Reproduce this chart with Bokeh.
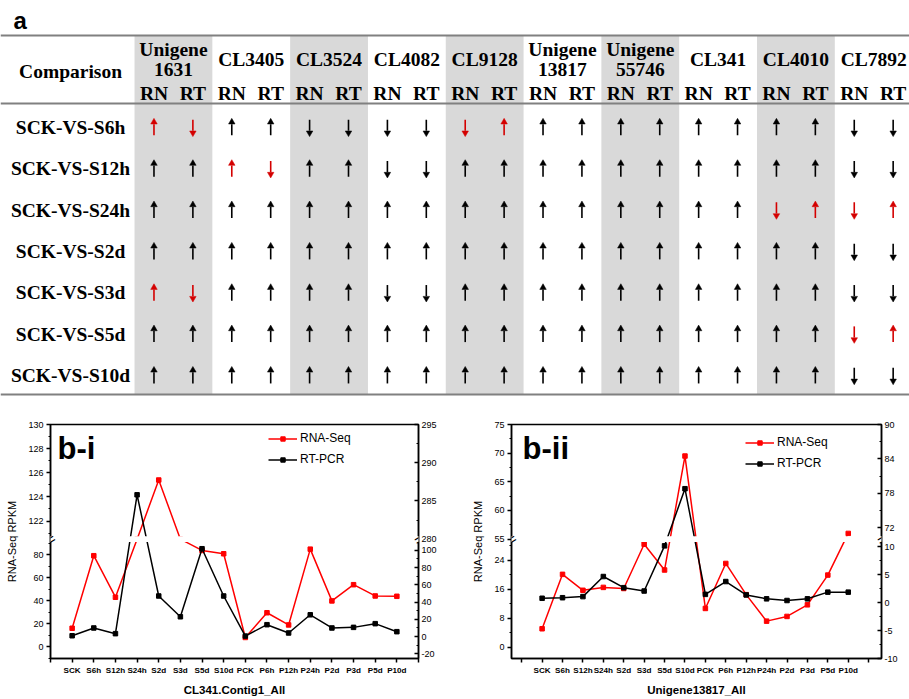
import math
from bokeh.plotting import figure
from bokeh.models import (Range1d, LinearAxis, FixedTicker, Label, Legend, LegendItem,
                          BoxAnnotation, Span)
from bokeh.layouts import column, row
from bokeh.embed import file_html
from bokeh.resources import INLINE
from bokeh.core.properties import value

# ---------------- Panel a data ----------------
genes = ["Unigene\n1631", "CL3405", "CL3524", "CL4082", "CL9128",
         "Unigene\n13817", "Unigene\n55746", "CL341", "CL4010", "CL7892"]
sub_cols = ["RN", "RT"]
comparisons = ["SCK-VS-S6h", "SCK-VS-S12h", "SCK-VS-S24h", "SCK-VS-S2d",
               "SCK-VS-S3d", "SCK-VS-S5d", "SCK-VS-S10d"]
# U = up-regulated, D = down-regulated (one letter per gene)
rn_dir = ["UUDDDUUUUD", "UUUDUUUUUD", "UUUUUUUUDD", "UUUUUUUUUD",
          "UUUDUUUUUD", "UUUUUUUUUD", "UUUUUUUUUD"]
rt_dir = ["DUDDUUUUUD", "UDUDUUUUUD", "UUUUUUUUUU", "UUUUUUUUUD",
          "DUUDUUUUUD", "UUUUUUUUUU", "UUUUUUUUUD"]
shaded_genes = [0, 2, 4, 6, 8]

# ---------------- Panel b data ----------------
stages = ["SCK", "S6h", "S12h", "S24h", "S2d", "S3d", "S5d", "S10d",
          "PCK", "P6h", "P12h", "P24h", "P2d", "P3d", "P5d", "P10d"]
bi_rnaseq = [16.0, 79.1, 43.0, 105.0, 125.4, 110.0, 83.7, 80.8,
             8.0, 29.5, 18.9, 84.8, 39.8, 53.9, 44.1, 43.8]
bi_rtpcr = [1.0, 10.0, 3.4, 285.8, 47.1, 23.0, 101.9, 47.1,
            0.6, 13.8, 4.2, 25.3, 10.0, 10.7, 15.0, 5.7]
bii_rnaseq = [5.1, 20.1, 15.7, 16.5, 16.2, 28.4, 21.3, 69.5,
              10.7, 23.1, 14.5, 7.2, 8.5, 11.7, 19.9, 56.0]
bii_rtpcr = [0.8, 0.9, 1.1, 4.7, 2.7, 2.1, 10.2, 78.8,
             1.5, 3.8, 1.4, 0.7, 0.4, 0.7, 1.9, 1.9]

# broken axes: (lower segment, upper segment), tick values
bi_left_seg = ((-10.3, 93.5), (120.5, 130.0))
bi_left_ticks = [0, 20, 40, 60, 80, 122, 124, 126, 128, 130]
bi_left_minor = [-10, 10, 30, 50, 70, 90, 121, 123, 125, 127, 129]
bi_right_seg = ((-25.4, 113.0), (280.0, 295.0))
bi_right_ticks = [-20, 0, 20, 40, 60, 80, 100, 280, 285, 290, 295]
bi_right_minor = [-10, 10, 30, 50, 70, 90, 110, 282.5, 287.5, 292.5]
bii_left_seg = ((-3.1, 29.8), (55.0, 75.0))
bii_left_ticks = [0, 8, 16, 24, 55, 60, 65, 70, 75]
bii_left_minor = [4, 12, 20, 28, 57.5, 62.5, 67.5, 72.5]
bii_right_seg = ((-10.0, 11.4), (70.0, 90.0))
bii_right_ticks = [-10, -5, 0, 5, 10, 72, 78, 84, 90]
bii_right_minor = [-7.5, -2.5, 2.5, 7.5, 75, 81, 87]

BREAK = 0.51
RED_T = "#d40000"

SERIF = "Liberation Serif"
SANS = "Liberation Sans"


def brk(v, lower, upper):
    if v <= lower[1]:
        return round(BREAK * (v - lower[0]) / (lower[1] - lower[0]), 6)
    if v >= upper[0]:
        return round(BREAK + (1 - BREAK) * (v - upper[0]) / (upper[1] - upper[0]), 6)
    return BREAK


def tick_label(v):
    return str(int(v)) if float(v).is_integer() else str(v)


# ---------------- Panel a (table) ----------------
TW, TH = 909, 398
tab = figure(width=TW, height=TH, x_range=Range1d(-3.445, 19.92), y_range=Range1d(6.554, -3.071),
             output_backend="svg", toolbar_location=None, min_border=0,
             outline_line_color=None, x_axis_location=None, y_axis_location=None)
tab.grid.visible = False

TOP_RULE, HEAD_RULE, BOT_RULE = -2.225, -0.580, 6.457
tab.quad(left=[2 * g for g in shaded_genes], right=[2 * g + 2 for g in shaded_genes],
         top=TOP_RULE, bottom=BOT_RULE, fill_color="#d9d9d9", line_color=None)
for loc in (TOP_RULE, HEAD_RULE, BOT_RULE):
    tab.add_layout(Span(location=loc, dimension="width", line_color="#808080", line_width=2))

tab.text(x=[2 * i + 1 for i in range(len(genes))], y=[-1.644] * len(genes), text=genes,
         text_font=value(SERIF), text_font_style="bold", text_font_size="19.5px",
         text_align="center", text_baseline="middle", text_line_height=0.95, text_color="black")
tab.text(x=[j + 0.5 for j in range(2 * len(genes))], y=[-0.81] * (2 * len(genes)),
         text=sub_cols * len(genes), text_font=value(SERIF), text_font_style="bold",
         text_font_size="19.5px", text_align="center", text_baseline="middle", text_color="black")
tab.text(x=[-1.645], y=[-1.354], text=["Comparison"], text_font=value(SERIF),
         text_font_style="bold", text_font_size="19.5px", text_align="center",
         text_baseline="middle", text_color="black")
tab.text(x=[-1.645] * len(comparisons), y=list(range(len(comparisons))), text=comparisons,
         text_font=value(SERIF), text_font_style="bold", text_font_size="19.5px",
         text_align="center", text_baseline="middle", text_color="black")
tab.add_layout(Label(x=-3.11, y=-2.58, text="a", text_font=SANS, text_font_style="bold",
                     text_font_size="24px", text_baseline="alphabetic", text_align="left",
                     text_color="black"))

sx, sy0, sy1, hx, hy, hm, col = [], [], [], [], [], [], []
for r in range(len(comparisons)):
    for g in range(len(genes)):
        dirs = (rn_dir[r][g], rt_dir[r][g])
        c = RED_T if dirs[0] != dirs[1] else "black"
        for s, d in enumerate(dirs):
            x = 2 * g + s + 0.5
            sgn = -1 if d == "U" else 1
            sx.append(x)
            sy0.append(r - sgn * 0.19)
            sy1.append(r + sgn * 0.08)
            hx.append(x)
            hy.append(r + sgn * 0.13)
            hm.append("triangle" if d == "U" else "inverted_triangle")
            col.append(c)
tab.segment(x0=sx, y0=sy0, x1=sx, y1=sy1, line_color=col, line_width=1.6)
tab.scatter(x=hx, y=hy, marker=hm, size=6.5, fill_color=col, line_color=col, line_width=0.5)

# ---------------- Panel b charts ----------------
CH = 300
FRAME_H = 238


def make_chart(width, bl, br, xr, rna, rt, lseg, lticks, lminor, rseg, rticks, rminor,
               name, name_x, xlabel, leg_xy, rtitle_off):
    p = figure(width=width, height=CH, x_range=Range1d(*xr), y_range=Range1d(0, 1),
               output_backend="svg", toolbar_location=None,
               min_border_left=bl, min_border_right=br, min_border_top=26, min_border_bottom=36)
    ppx = (width - bl - br) / (xr[1] - xr[0])
    p.grid.visible = False
    p.outline_line_color = "black"
    p.outline_line_width = 1.5
    p.outline_line_alpha = 1.0

    xs = list(range(len(stages)))
    t_rna = [brk(v, *lseg) for v in rna]
    t_rt = [brk(v, *rseg) for v in rt]
    r1 = p.line(xs, t_rna, line_color="#ff0000", line_width=1.5)
    m1 = p.scatter(xs, t_rna, marker="square", size=4.5, fill_color="#ff0000", line_color="#ff0000")
    r2 = p.line(xs, t_rt, line_color="black", line_width=1.5)
    m2 = p.scatter(xs, t_rt, marker="square", size=4.5, fill_color="black", line_color="black")

    # bottom axis
    xa = p.xaxis[0]
    xa.ticker = FixedTicker(ticks=list(range(-1, len(stages) + 1)))
    ov = {i: s for i, s in enumerate(stages)}
    ov[-1] = ""
    ov[len(stages)] = ""
    xa.major_label_overrides = ov
    xa.axis_label = xlabel
    xa.axis_label_text_font = SANS
    xa.axis_label_text_font_style = "bold"
    xa.axis_label_text_font_size = "11.5px"
    xa.axis_label_standoff = 6
    xa.major_label_text_font = SANS
    xa.major_label_text_font_style = "bold"
    xa.major_label_text_font_size = "8.1px"
    xa.major_label_standoff = 3
    xa.major_tick_out = 4
    xa.major_tick_in = 0
    xa.minor_tick_line_color = None

    # left axis
    ya = p.yaxis[0]
    ya.ticker = FixedTicker(ticks=[brk(v, *lseg) for v in lticks],
                            minor_ticks=[brk(v, *lseg) for v in lminor])
    ya.major_label_overrides = {brk(v, *lseg): tick_label(v) for v in lticks}
    ya.axis_label = "RNA-Seq RPKM"
    ya.major_tick_out = 4
    ya.major_tick_in = 0
    ya.minor_tick_out = 2
    ya.minor_tick_in = 0
    ya.major_label_standoff = 3
    ya.axis_label_standoff = 7

    # right axis
    ra = LinearAxis(ticker=FixedTicker(ticks=[brk(v, *rseg) for v in rticks],
                                       minor_ticks=[brk(v, *rseg) for v in rminor]),
                    major_label_overrides={brk(v, *rseg): tick_label(v) for v in rticks})
    ra.major_tick_out = 0
    ra.major_tick_in = 4
    ra.minor_tick_out = 0
    ra.minor_tick_in = 2
    ra.major_label_standoff = 3
    p.add_layout(ra, "right")

    for ax in (xa, ya, ra):
        ax.axis_line_width = 1.5
        ax.axis_line_color = "black"
        ax.major_tick_line_width = 1.5
        ax.minor_tick_line_width = 1.2
        ax.major_tick_line_color = "black"
        ax.major_label_text_color = "black"
        ax.axis_label_text_color = "black"
    for ax in (ya, ra):
        ax.minor_tick_line_color = "black"
        ax.major_label_text_font = SANS
        ax.major_label_text_font_size = "9px"
        ax.axis_label_text_font = SANS
        ax.axis_label_text_font_style = "normal"
        ax.axis_label_text_font_size = "11px"

    # axis break: white gap + break marks
    gap = 3.0 / FRAME_H
    p.add_layout(BoxAnnotation(left=xr[0] - 6 / ppx, right=xr[1] + 6 / ppx,
                               bottom=BREAK - gap, top=BREAK + gap,
                               fill_color="white", fill_alpha=1.0, line_color=None))
    for bx in (xr[0], xr[1]):
        p.add_layout(Label(x=bx, y=BREAK, text="=", text_font=SANS, text_font_size="15px",
                           angle=0.55, text_align="center", text_baseline="middle",
                           text_color="black"))

    # right axis title
    p.add_layout(Label(x=xr[1] + rtitle_off / ppx, y=0.5, text="RT-PCR Expression",
                       angle=math.pi / 2, text_font=SANS, text_font_size="11px",
                       text_align="center", text_baseline="middle", text_color="black"))
    # panel name
    p.add_layout(Label(x=name_x, y=0.972, text=name, text_font=SANS, text_font_style="bold",
                       text_font_size="31px", text_baseline="top", text_align="left",
                       text_color="black"))

    leg = Legend(items=[LegendItem(label="RNA-Seq", renderers=[r1, m1]),
                        LegendItem(label="RT-PCR", renderers=[r2, m2])],
                 location=leg_xy, border_line_color=None, background_fill_alpha=0,
                 padding=0, margin=0, spacing=1, glyph_width=29, glyph_height=11,
                 label_height=20, label_standoff=3, label_text_font=SANS,
                 label_text_font_size="12px", label_text_color="black")
    p.add_layout(leg)
    return p


p1 = make_chart(462, 50, 44, (-1.0, 16.0), bi_rnaseq, bi_rtpcr,
                bi_left_seg, bi_left_ticks, bi_left_minor,
                bi_right_seg, bi_right_ticks, bi_right_minor,
                "b-i", -0.677, "CL341.Contig1_All", (218, 189), 32)
p2 = make_chart(447, 49, 28, (-1.5, 16.63), bii_rnaseq, bii_rtpcr,
                bii_left_seg, bii_left_ticks, bii_left_minor,
                bii_right_seg, bii_right_ticks, bii_right_minor,
                "b-ii", -0.96, "Unigene13817_All", (234, 185), 26)

layout = column(tab, row(p1, p2))
open("out.html", "w").write(file_html(layout, INLINE))
